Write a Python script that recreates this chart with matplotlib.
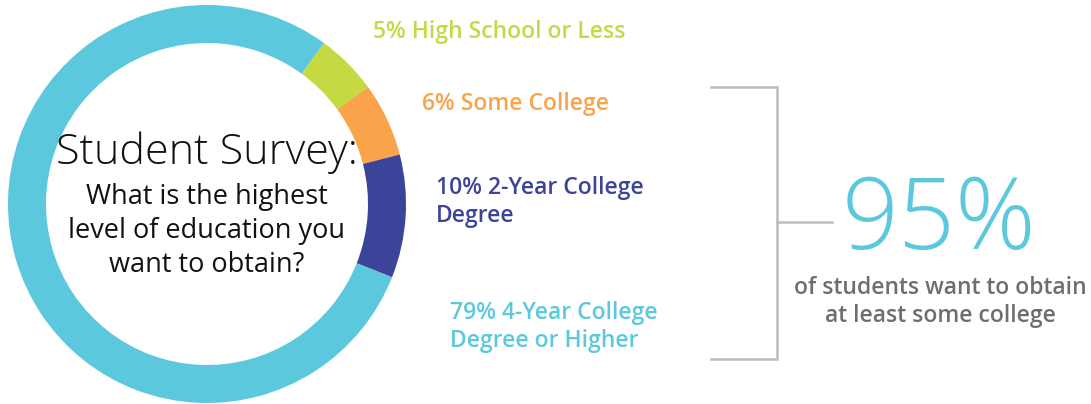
import matplotlib.pyplot as plt

# survey data
categories = ['High School or Less', 'Some College', '2-Year College\nDegree',
              '4-Year College\nDegree or Higher']
shares = [5, 6, 10, 79]
colors = ['#C5D943', '#F9A44A', '#3C4499', '#5BC8DD']
college_total = 95

fig = plt.figure(figsize=(10.91, 4.04), dpi=100)
ax = fig.add_axes([0, 0, 1, 1])

# donut
ax.pie(shares, colors=colors, startangle=54, counterclock=False,
       center=(207, 200), radius=199,
       wedgeprops=dict(width=38, linewidth=0))
ax.set_xlim(0, 1091)
ax.set_ylim(0, 404)
ax.axis('off')

# centre text
ax.text(207, 404 - 153, 'Student Survey:', ha='center', va='center',
        fontsize=31, family='Open Sans', fontweight='light', color='#111111')
ax.text(207, 404 - 231, 'What is the highest\nlevel of education you\nwant to obtain?',
        ha='center', va='center', fontsize=19.5, family='Open Sans',
        fontweight='normal', color='#111111', linespacing=1.3)

# segment labels
label_pos = [(373, 32), (422, 104), (436, 202), (450, 327)]
for share, cat, col, (x, y) in zip(shares, categories, colors, label_pos):
    ax.text(x, 404 - y, f'{share}% {cat}', ha='left', va='center',
            fontsize=16.5, family='Open Sans', fontweight='semibold', color=col,
            linespacing=1.25)

# bracket
gray = '#BDBDBD'
ax.plot([711, 777, 777, 711], [404 - 87, 404 - 87, 404 - 359, 404 - 359],
        color=gray, lw=1.8, solid_joinstyle='miter')
ax.plot([777, 832], [404 - 222, 404 - 222], color=gray, lw=1.8)

ax.text(939, 404 - 223, f'{college_total}%', ha='center', va='center',
        fontsize=72, family='Open Sans', fontweight='light', color='#5BC8DD')
ax.text(940, 404 - 302, 'of students want to obtain\nat least some college',
        ha='center', va='center', fontsize=16.5, family='Open Sans',
        fontweight='semibold', color='#6D6E71', linespacing=1.25)

fig.savefig('out.png', dpi=100)
